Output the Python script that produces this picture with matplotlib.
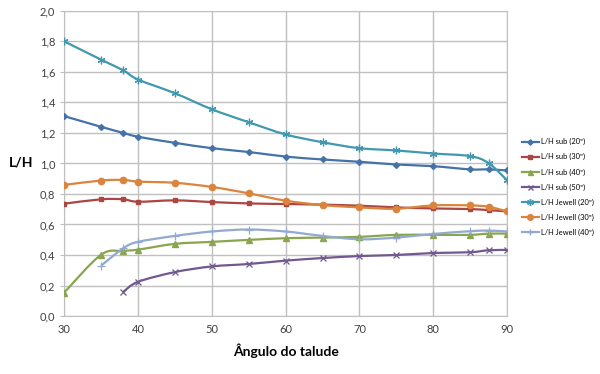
import numpy as np
import matplotlib
matplotlib.use('Agg')
import matplotlib.pyplot as plt
from matplotlib.path import Path
from matplotlib.patches import PathPatch
from matplotlib.lines import Line2D

plt.rcParams['font.family'] = ['Lato', 'DejaVu Sans']

# Data
x_all = [30, 35, 38, 40, 45, 50, 55, 60, 65, 70, 75, 80, 85, 87.5, 90]
x_from35 = x_all[1:]
x_from38 = x_all[2:]

sub20 = [1.31, 1.24, 1.20, 1.175, 1.135, 1.10, 1.075, 1.045, 1.026, 1.011, 0.993, 0.982, 0.961, 0.961, 0.954]
sub30 = [0.736, 0.765, 0.765, 0.749, 0.758, 0.747, 0.738, 0.734, 0.730, 0.723, 0.712, 0.705, 0.701, 0.694, 0.686]
sub40 = [0.154, 0.402, 0.426, 0.435, 0.473, 0.486, 0.499, 0.510, 0.514, 0.519, 0.532, 0.532, 0.532, 0.540, 0.540]
sub50 = [0.158, 0.224, 0.288, 0.325, 0.341, 0.363, 0.380, 0.393, 0.400, 0.413, 0.418, 0.431, 0.433]
jew20 = [1.80, 1.68, 1.61, 1.55, 1.46, 1.355, 1.27, 1.19, 1.139, 1.10, 1.085, 1.065, 1.048, 1.002, 0.89]
jew30 = [0.859, 0.888, 0.892, 0.881, 0.873, 0.846, 0.804, 0.756, 0.727, 0.712, 0.703, 0.725, 0.725, 0.716, 0.686]
jew40 = [0.33, 0.444, 0.486, 0.525, 0.554, 0.567, 0.554, 0.525, 0.503, 0.514, 0.538, 0.556, 0.560, 0.554]

series = [
    ('L/H sub (20º)', x_all, sub20, '#4572A7', 'D', 3.0),
    ('L/H sub (30º)', x_all, sub30, '#AA4643', 's', 3.0),
    ('L/H sub (40º)', x_all, sub40, '#89A54E', '^', 4.0),
    ('L/H sub (50º)', x_from38, sub50, '#71588F', 'x', 4.0),
    ('L/H Jewell (20º)', x_all, jew20, '#4198AF', (6, 2, 0), 5.5),
    ('L/H Jewell (30º)', x_all, jew30, '#DB843D', 'o', 4.5),
    ('L/H Jewell (40º)', x_from35, jew40, '#93A9CF', '+', 5.5),
]


def smooth_path(x, y, k=1/6):
    # Excel-like smoothed line: cubic Bezier through the points
    x = np.asarray(x, float)
    y = np.asarray(y, float)
    verts = [(x[0], y[0])]
    codes = [Path.MOVETO]
    n = len(x)
    for i in range(n - 1):
        p0 = np.array([x[max(i - 1, 0)], y[max(i - 1, 0)]])
        p1 = np.array([x[i], y[i]])
        p2 = np.array([x[i + 1], y[i + 1]])
        p3 = np.array([x[min(i + 2, n - 1)], y[min(i + 2, n - 1)]])
        c1 = p1 + (p2 - p0) * k
        c2 = p2 - (p3 - p1) * k
        verts += [tuple(c1), tuple(c2), tuple(p2)]
        codes += [Path.CURVE4] * 3
    return Path(verts, codes)


fig = plt.figure(figsize=(6, 3.74), dpi=100)
ax = fig.add_axes([0.107, 0.155, 0.738, 0.816])

handles = []
for label, xs, ys, color, marker, ms in series:
    ax.add_patch(PathPatch(smooth_path(xs, ys), facecolor='none', edgecolor=color, lw=1.6, zorder=3))
    ax.plot(xs, ys, linestyle='none', marker=marker, color=color, markersize=ms,
            markeredgewidth=1.0 if marker not in ('x', '+', (6, 2, 0)) else 0.9, zorder=4)
    handles.append(Line2D([], [], color=color, lw=1.6, marker=marker, markersize=ms * 0.9, label=label))

ax.set_xlim(30, 90)
ax.set_ylim(0, 2.0)
ax.set_xticks(np.arange(30, 91, 10))
ax.set_yticks(np.arange(0, 2.01, 0.2))
ax.set_yticklabels([f'{v:.1f}'.replace('.', ',') for v in np.arange(0, 2.01, 0.2)])
ax.grid(True, color='#c0c0c0', lw=1.0)
ax.set_axisbelow(True)
for s in ax.spines.values():
    s.set_color('#c0c0c0')
ax.tick_params(axis='both', labelsize=8, colors='#404040', length=3, color='#c0c0c0')
ax.tick_params(axis='x', length=0, pad=6)

ax.set_xlabel('Ângulo do talude', fontsize=10, fontweight='bold', labelpad=6)
fig.text(0.035, 0.565, 'L/H', fontsize=10, fontweight='bold', ha='center', va='center')

fig.legend(handles=handles, loc='center left', bbox_to_anchor=(0.87, 0.5), frameon=False,
           fontsize=5.4, handlelength=2.2, labelspacing=1.05, handletextpad=0.3,
           borderaxespad=0, borderpad=0)

fig.savefig('out.png', dpi=100)
